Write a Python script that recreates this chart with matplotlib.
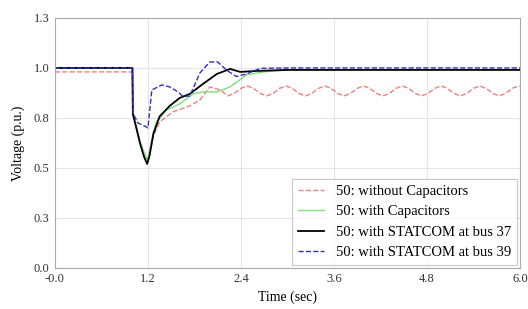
import matplotlib.pyplot as plt

plt.rcParams["font.family"] = ["Liberation Serif", "DejaVu Serif"]

# --- Data ---
t_red = [0.0, 1.0, 1.005, 1.1, 1.19, 1.22, 1.27, 1.35, 1.52, 1.74, 1.87, 2.0, 2.13,
         2.23, 2.31, 2.40, 2.48, 2.56, 2.65,
         2.73, 2.81, 2.90, 2.98, 3.06, 3.15,
         3.23, 3.31, 3.40, 3.48, 3.56, 3.65,
         3.73, 3.81, 3.90, 3.98, 4.06, 4.15,
         4.23, 4.31, 4.40, 4.48, 4.56, 4.65,
         4.73, 4.81, 4.90, 4.98, 5.06, 5.15,
         5.23, 5.31, 5.40, 5.48, 5.56, 5.65,
         5.73, 5.81, 5.90, 5.98, 6.0]
v_red = [0.98, 0.98, 0.77, 0.62, 0.53, 0.57, 0.66, 0.73, 0.78, 0.81, 0.84, 0.905, 0.89,
         0.86, 0.872, 0.898, 0.91, 0.898, 0.872,
         0.86, 0.872, 0.898, 0.91, 0.898, 0.872,
         0.86, 0.872, 0.898, 0.91, 0.898, 0.872,
         0.86, 0.872, 0.898, 0.91, 0.898, 0.872,
         0.86, 0.872, 0.898, 0.91, 0.898, 0.872,
         0.86, 0.872, 0.898, 0.91, 0.898, 0.872,
         0.86, 0.872, 0.898, 0.91, 0.898, 0.872,
         0.86, 0.872, 0.898, 0.91, 0.909]

t_green = [0.0, 1.0, 1.005, 1.1, 1.19, 1.22, 1.27, 1.31, 1.44, 1.61, 1.78, 1.91, 2.09,
           2.26, 2.47, 2.69, 3.0, 6.0]
v_green = [1.0, 1.0, 0.78, 0.63, 0.54, 0.58, 0.68, 0.73, 0.79, 0.82, 0.87, 0.88, 0.88,
           0.905, 0.965, 0.98, 0.99, 0.99]

t_black = [0.0, 1.0, 1.005, 1.05, 1.1, 1.15, 1.19, 1.22, 1.27, 1.35, 1.48, 1.61, 1.74,
           1.91, 2.09, 2.26, 2.39, 2.6, 3.0, 6.0]
v_black = [1.0, 1.0, 0.77, 0.70, 0.62, 0.555, 0.52, 0.56, 0.67, 0.757, 0.81, 0.85, 0.87,
           0.92, 0.97, 0.995, 0.98, 0.985, 0.99, 0.99]

t_blue = [0.0, 1.0, 1.005, 1.07, 1.18, 1.2, 1.25, 1.38, 1.48, 1.59, 1.65, 1.74, 1.87,
          2.0, 2.1, 2.21, 2.34, 2.47, 2.65, 3.0, 6.0]
v_blue = [1.0, 1.0, 0.775, 0.725, 0.705, 0.70, 0.89, 0.915, 0.905, 0.88, 0.857, 0.86, 0.975,
          1.03, 1.03, 0.99, 0.957, 0.97, 0.998, 1.0, 1.0]

labels = ["50: without Capacitors", "50: with Capacitors",
          "50: with STATCOM at bus 37", "50: with STATCOM at bus 39"]

x_ticks = [0.0, 1.2, 2.4, 3.6, 4.8, 6.0]
x_tick_labels = ["-0.0", "1.2", "2.4", "3.6", "4.8", "6.0"]
y_ticks = [0.0, 0.25, 0.5, 0.75, 1.0, 1.25]
y_tick_labels = ["0.0", "0.3", "0.5", "0.8", "1.0", "1.3"]

# --- Plot ---
fig = plt.figure(figsize=(5.28, 3.09), dpi=100)
ax = fig.add_axes([0.104, 0.133, 0.881, 0.809])

ax.plot(t_red, v_red, color="#f08080", linestyle="--", linewidth=1.0, label=labels[0])
ax.plot(t_green, v_green, color="#80dd80", linewidth=1.0, label=labels[1])
ax.plot(t_black, v_black, color="black", linewidth=1.3, label=labels[2])
ax.plot(t_blue, v_blue, color="#3030c0", linestyle="--", linewidth=1.0, label=labels[3])

ax.set_xlim(0, 6.0)
ax.set_ylim(0, 1.25)
ax.set_xticks(x_ticks)
ax.set_xticklabels(x_tick_labels)
ax.set_yticks(y_ticks)
ax.set_yticklabels(y_tick_labels)
ax.tick_params(length=0, labelsize=9, colors="#333333", pad=4)

ax.grid(True, color="#e4e4e4", linewidth=0.8)
for s in ax.spines.values():
    s.set_color("#aaaaaa")
    s.set_linewidth(0.8)

ax.set_xlabel("Time (sec)", fontsize=10, labelpad=4)
ax.set_ylabel("Voltage (p.u.)", fontsize=10, labelpad=6)

leg = ax.legend(loc="lower right", fontsize=10.5, frameon=True, fancybox=False,
                edgecolor="#bbbbbb", handlelength=1.8, handletextpad=0.8,
                borderaxespad=0.2, labelspacing=0.5, borderpad=0.4)
leg.get_frame().set_linewidth(0.8)

fig.savefig("out.png", dpi=100)
